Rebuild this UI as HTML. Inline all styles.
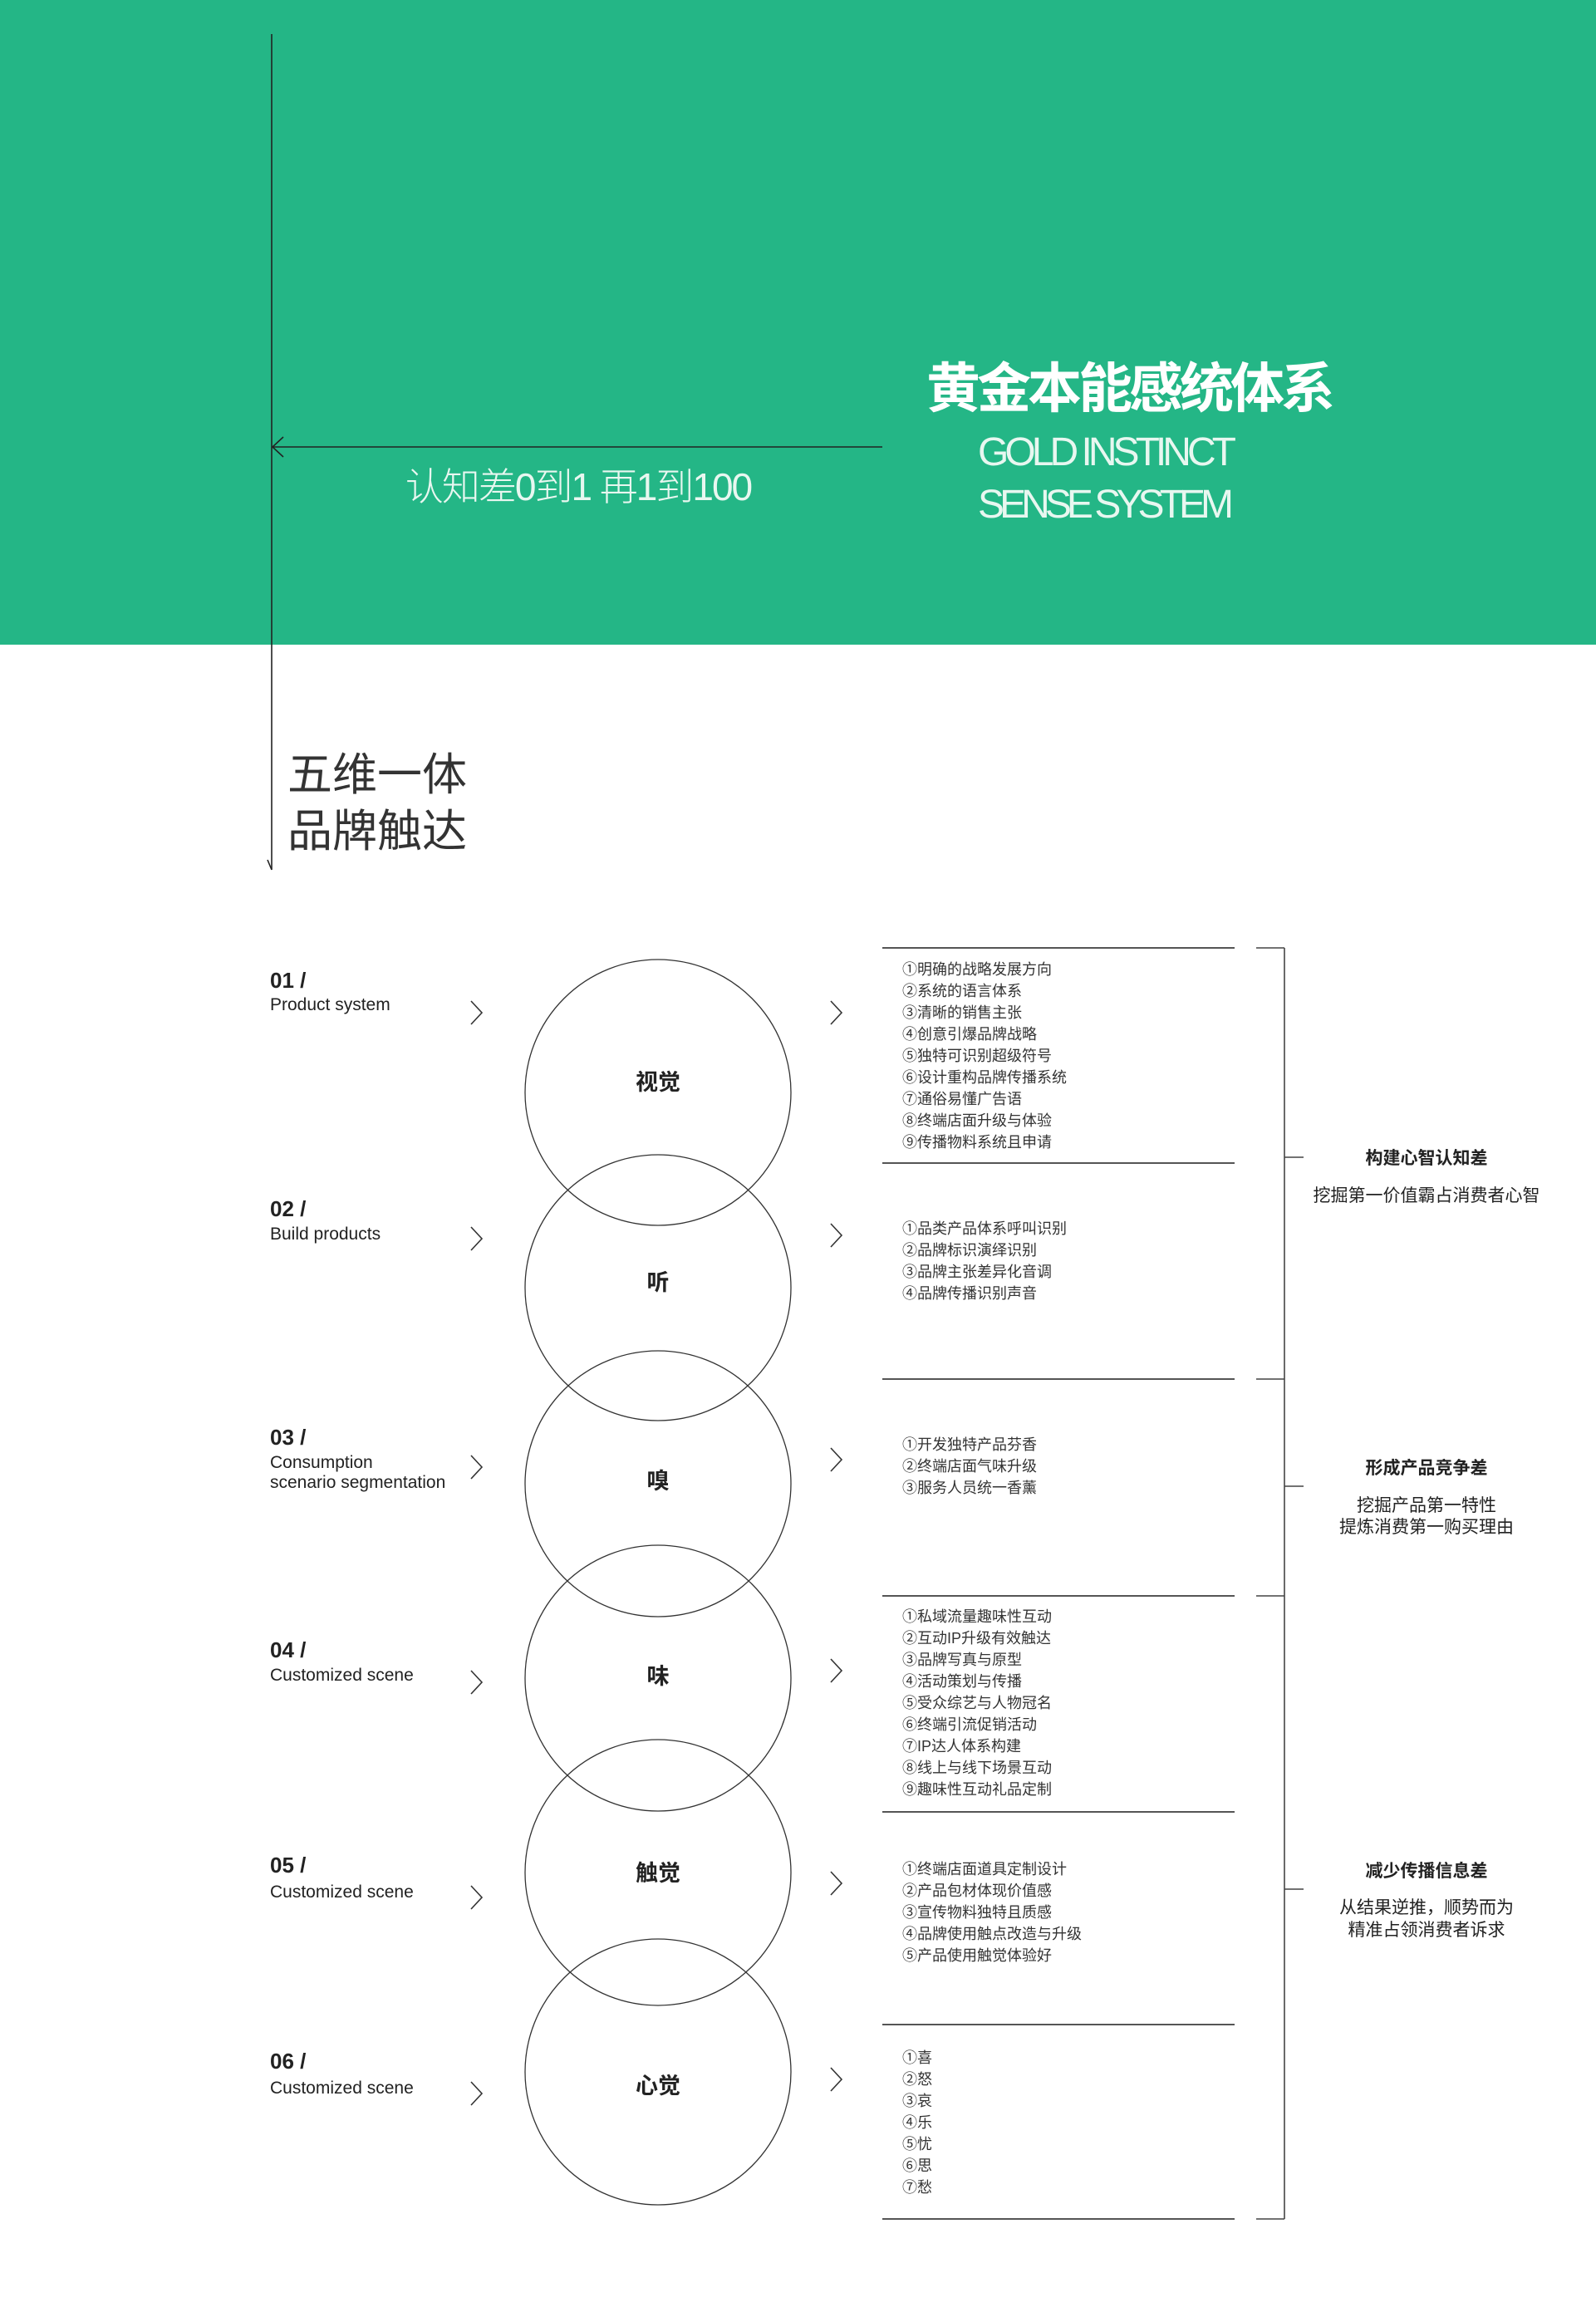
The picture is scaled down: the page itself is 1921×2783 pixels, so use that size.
<!DOCTYPE html>
<html><head><meta charset="utf-8"><style>
html,body{margin:0;padding:0;background:#fff}
svg{display:block}
text{font-family:"Liberation Sans","Noto Sans CJK SC",sans-serif}
</style></head><body>
<svg width="1921" height="2783" viewBox="0 0 1921 2783" xmlns="http://www.w3.org/2000/svg">
<rect x="0" y="0" width="1921" height="776" fill="#24b686"/>
<g stroke="#222" stroke-width="1.6" fill="none">
<line x1="327" y1="41" x2="327" y2="1047"/>
<polyline points="322,1035 327,1047"/>
<line x1="327" y1="538" x2="1062" y2="538"/>
<polyline points="341,526 328,538 341,550"/>
</g>
<text x="696" y="602" font-size="46" fill="#e8f7f0" text-anchor="middle" font-weight="300" letter-spacing="-2">认知差0到1 再1到100</text>
<text x="1115" y="490" font-size="65" fill="#fff" font-weight="bold" textLength="492">黄金本能感统体系</text>
<text x="1177" y="560" font-size="48" fill="#e8f7f0" letter-spacing="-3" textLength="308">GOLD INSTINCT</text>
<text x="1177" y="623" font-size="48" fill="#e8f7f0" letter-spacing="-3" textLength="305">SENSE  SYSTEM</text>
<text x="346" y="951" font-size="54" fill="#333">五维一体</text>
<text x="346" y="1019" font-size="54" fill="#333">品牌触达</text>

<g stroke="#333" stroke-width="1.3" fill="none">
<circle cx="792" cy="1315" r="160"/>
<circle cx="792" cy="1550" r="160"/>
<circle cx="792" cy="1786" r="160"/>
<circle cx="792" cy="2020" r="160"/>
<circle cx="792" cy="2254" r="160"/>
<circle cx="792" cy="2494" r="160"/>
</g>
<g font-size="27" font-weight="bold" fill="#222" text-anchor="middle">
<text x="792" y="1312">视觉</text>
<text x="792" y="1553">听</text>
<text x="792" y="1792">嗅</text>
<text x="792" y="2027">味</text>
<text x="792" y="2264">触觉</text>
<text x="792" y="2520">心觉</text>
</g>

<g fill="#222">
<text x="325" y="1189" font-size="26" font-weight="bold">01  /</text>
<text x="325" y="1216" font-size="21">Product system</text>
<text x="325" y="1464" font-size="26" font-weight="bold">02  /</text>
<text x="325" y="1492" font-size="21">Build products</text>
<text x="325" y="1739" font-size="26" font-weight="bold">03  /</text>
<text x="325" y="1767" font-size="21">Consumption</text>
<text x="325" y="1791" font-size="21">scenario segmentation</text>
<text x="325" y="1995" font-size="26" font-weight="bold">04 /</text>
<text x="325" y="2023" font-size="21">Customized scene</text>
<text x="325" y="2254" font-size="26" font-weight="bold">05 /</text>
<text x="325" y="2284" font-size="21">Customized scene</text>
<text x="325" y="2490" font-size="26" font-weight="bold">06 /</text>
<text x="325" y="2520" font-size="21">Customized scene</text>
</g>

<g stroke="#333" stroke-width="1.6" fill="none">
<polyline points="567,1205 580,1219 567,1233"/>
<polyline points="567,1477 580,1491 567,1505"/>
<polyline points="567,1752 580,1766 567,1780"/>
<polyline points="567,2011 580,2025 567,2039"/>
<polyline points="567,2270 580,2284 567,2298"/>
<polyline points="567,2506 580,2520 567,2534"/>
<polyline points="1000,1205 1013,1219 1000,1233"/>
<polyline points="1000,1473 1013,1487 1000,1501"/>
<polyline points="1000,1743 1013,1757 1000,1771"/>
<polyline points="1000,1997 1013,2011 1000,2025"/>
<polyline points="1000,2253 1013,2267 1000,2281"/>
<polyline points="1000,2489 1013,2503 1000,2517"/>
</g>

<g stroke="#555" stroke-width="2">
<line x1="1062" y1="1141" x2="1486" y2="1141"/>
<line x1="1062" y1="1400" x2="1486" y2="1400"/>
<line x1="1062" y1="1660" x2="1486" y2="1660"/>
<line x1="1062" y1="1921" x2="1486" y2="1921"/>
<line x1="1062" y1="2181" x2="1486" y2="2181"/>
<line x1="1062" y1="2437" x2="1486" y2="2437"/>
<line x1="1062" y1="2671" x2="1486" y2="2671"/>
</g>
<g stroke="#444" stroke-width="1.6">
<line x1="1546" y1="1141" x2="1546" y2="2671"/>
<line x1="1512" y1="1141" x2="1546" y2="1141"/>
<line x1="1512" y1="1660" x2="1546" y2="1660"/>
<line x1="1512" y1="1921" x2="1546" y2="1921"/>
<line x1="1512" y1="2671" x2="1546" y2="2671"/>
<line x1="1546" y1="1393" x2="1569" y2="1393"/>
<line x1="1546" y1="1789" x2="1569" y2="1789"/>
<line x1="1546" y1="2274" x2="1569" y2="2274"/>
</g>

<g font-size="18" fill="#333">
<text x="1086" y="1173">①明确的战略发展方向</text>
<text x="1086" y="1199">②系统的语言体系</text>
<text x="1086" y="1225">③清晰的销售主张</text>
<text x="1086" y="1251">④创意引爆品牌战略</text>
<text x="1086" y="1277">⑤独特可识别超级符号</text>
<text x="1086" y="1303">⑥设计重构品牌传播系统</text>
<text x="1086" y="1329">⑦通俗易懂广告语</text>
<text x="1086" y="1355">⑧终端店面升级与体验</text>
<text x="1086" y="1381">⑨传播物料系统且申请</text>

<text x="1086" y="1485">①品类产品体系呼叫识别</text>
<text x="1086" y="1511">②品牌标识演绎识别</text>
<text x="1086" y="1537">③品牌主张差异化音调</text>
<text x="1086" y="1563">④品牌传播识别声音</text>

<text x="1086" y="1745">①开发独特产品芬香</text>
<text x="1086" y="1771">②终端店面气味升级</text>
<text x="1086" y="1797">③服务人员统一香薰</text>

<text x="1086" y="1952">①私域流量趣味性互动</text>
<text x="1086" y="1978">②互动IP升级有效触达</text>
<text x="1086" y="2004">③品牌写真与原型</text>
<text x="1086" y="2030">④活动策划与传播</text>
<text x="1086" y="2056">⑤受众综艺与人物冠名</text>
<text x="1086" y="2082">⑥终端引流促销活动</text>
<text x="1086" y="2108">⑦IP达人体系构建</text>
<text x="1086" y="2134">⑧线上与线下场景互动</text>
<text x="1086" y="2160">⑨趣味性互动礼品定制</text>

<text x="1086" y="2256">①终端店面道具定制设计</text>
<text x="1086" y="2282">②产品包材体现价值感</text>
<text x="1086" y="2308">③宣传物料独特且质感</text>
<text x="1086" y="2334">④品牌使用触点改造与升级</text>
<text x="1086" y="2360">⑤产品使用触觉体验好</text>

<text x="1086" y="2483">①喜</text>
<text x="1086" y="2509">②怒</text>
<text x="1086" y="2535">③哀</text>
<text x="1086" y="2561">④乐</text>
<text x="1086" y="2587">⑤忧</text>
<text x="1086" y="2613">⑥思</text>
<text x="1086" y="2639">⑦愁</text>
</g>

<g font-size="21" fill="#222" text-anchor="middle">
<text x="1717" y="1401" font-weight="bold">构建心智认知差</text>
<text x="1717" y="1446">挖掘第一价值霸占消费者心智</text>
<text x="1717" y="1774" font-weight="bold">形成产品竞争差</text>
<text x="1717" y="1819">挖掘产品第一特性</text>
<text x="1717" y="1845">提炼消费第一购买理由</text>
<text x="1717" y="2259" font-weight="bold">减少传播信息差</text>
<text x="1717" y="2303">从结果逆推，顺势而为</text>
<text x="1717" y="2330">精准占领消费者诉求</text>
</g>
</svg>
</body></html>
